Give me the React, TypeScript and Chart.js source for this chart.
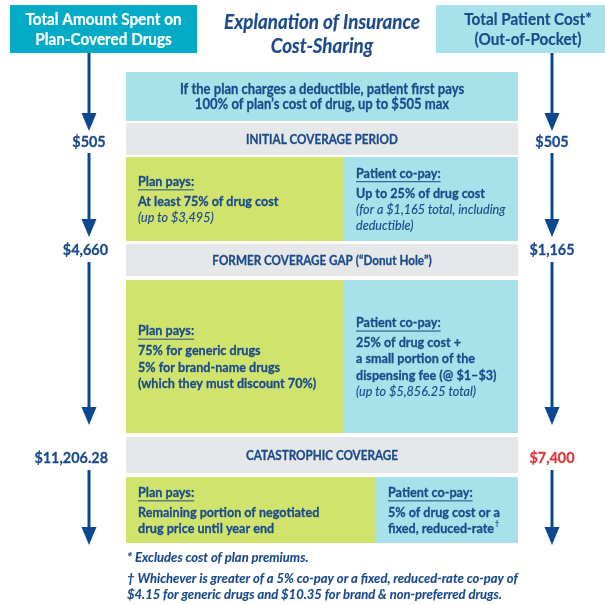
import React, { useEffect, useRef } from "react";
import { Chart, registerables } from "chart.js";
Chart.register(...registerables);

// ---------- DATA ----------
const HEADER_LEFT = ["Total Amount Spent on", "Plan-Covered Drugs"];
const HEADER_RIGHT = ["Total Patient Cost*", "(Out-of-Pocket)"];
const TITLE = ["Explanation of Insurance", "Cost-Sharing"];
const DEDUCTIBLE = [
  "If the plan charges a deductible, patient first pays",
  "100% of plan\u2019s cost of drug, up to $505 max",
];
const STAGES = [
  "INITIAL COVERAGE PERIOD",
  "FORMER COVERAGE GAP (\u201cDonut Hole\u201d)",
  "CATASTROPHIC COVERAGE",
];
const TOTAL_SPENT = ["$505", "$4,660", "$11,206.28"];
const PATIENT_COST = ["$505", "$1,165", "$7,400"];
const PLAN_HEADING = "Plan pays:";
const COPAY_HEADING = "Patient co-pay:";
const PLAN_PAYS_MAIN = [
  ["At least 75% of drug cost"],
  ["75% for generic drugs", "5% for brand-name drugs", "(which they must discount 70%)"],
  ["Remaining portion of negotiated", "drug price until year end"],
];
const PLAN_PAYS_NOTE = [["(up to $3,495)"], [], []];
const COPAY_MAIN = [
  ["Up to 25% of drug cost"],
  ["25% of drug cost +", "a small portion of the", "dispensing fee (@ $1\u2013$3)"],
  ["5% of drug cost or a", "fixed, reduced-rate\u2020"],
];
const COPAY_NOTE = [["(for a $1,165 total, including", "deductible)"], ["(up to $5,856.25 total)"], []];
const FOOTNOTES = [
  "* Excludes cost of plan premiums.",
  "\u2020 Whichever is greater of a 5% co-pay or a fixed, reduced-rate co-pay of",
  "$4.15 for generic drugs and $10.35 for brand & non-preferred drugs.",
];

// ---------- LAYOUT & STYLE ----------
const W = 605;
const H = 605;
const C = {
  teal: "#04abc7",
  cyan: "#a7e1e9",
  green: "#d0e46d",
  gray: "#e6e7e8",
  navy: "#1c4b8c",
  arrow: "#0b4892",
  red: "#e2373f",
  white: "#ffffff",
};
const FONT = "Lato, 'Open Sans', sans-serif";
const SX = 0.9; // condensation for italic notes
const SXB = 0.9; // condensation for bold text
const HIGHLIGHT_INDEX = 2;
const LAYOUT = {
  headerLeft: [10, 197, 5, 53],
  headerRight: [436, 620, 5, 53],
  titleX: 322,
  titleY: [23, 47],
  boxL: 126,
  boxR: 518,
  deductible: [72, 121],
  bands: [[123, 155], [244, 276], [437, 473]],
  rows: [[157, 241], [280, 433], [477, 543]],
  splits: [344, 344, 376],
  colL: 89,
  colR: 552,
  labelY: [142, 250, 458],
  arrows: [[53, 131], [153, 237], [262, 425], [470, 545]],
  footY: [558, 579, 595],
};

function drawText(ctx: CanvasRenderingContext2D, t: string, x: number, y: number, font: string, color: string, align: CanvasTextAlign = "left", sx = SXB, heavy = 0.3) {
  ctx.save();
  ctx.font = font;
  ctx.fillStyle = color;
  ctx.strokeStyle = color;
  ctx.lineWidth = heavy;
  ctx.lineJoin = "round";
  ctx.textAlign = align;
  ctx.textBaseline = "middle";
  ctx.translate(x, y);
  ctx.scale(sx, 1);
  let main = t;
  let sup = "";
  if (t.endsWith("\u2020") && !t.startsWith("\u2020")) {
    main = t.slice(0, -1);
    sup = "\u2020";
  }
  ctx.fillText(main, 0, 0);
  if (heavy > 0) ctx.strokeText(main, 0, 0);
  const w = ctx.measureText(main).width;
  if (sup) {
    ctx.font = `700 8px ${FONT}`;
    ctx.fillText(sup, w + 1, -5);
  }
  ctx.restore();
  return w * sx;
}

const infographic = {
  id: "infographic",
  afterDraw(chart: any) {
    const ctx: CanvasRenderingContext2D = chart.ctx;
    const xs = chart.scales.x;
    const ys = chart.scales.y;
    const px = (v: number) => xs.getPixelForValue(v);
    const py = (v: number) => ys.getPixelForValue(v);
    const rect = (x0: number, x1: number, y0: number, y1: number, color: string) => {
      ctx.fillStyle = color;
      ctx.fillRect(px(x0), py(y0), px(x1) - px(x0), py(y1) - py(y0));
    };

    ctx.save();
    // header boxes
    const hl = LAYOUT.headerLeft;
    rect(hl[0], hl[1], hl[2], hl[3], C.teal);
    const hr = LAYOUT.headerRight;
    rect(hr[0], hr[1], hr[2], hr[3], C.cyan);
    const hFont = `700 17px ${FONT}`;
    HEADER_LEFT.forEach((t, i) => drawText(ctx, t, px((hl[0] + hl[1]) / 2), py(20 + i * 19.5), hFont, C.white, "center", 0.9, 0.2));
    HEADER_RIGHT.forEach((t, i) => drawText(ctx, t, px((hr[0] + hr[1]) / 2), py(20 + i * 19.5), hFont, C.navy, "center", 0.9, 0.2));

    // title
    TITLE.forEach((t, i) =>
      drawText(ctx, t, px(LAYOUT.titleX), py(LAYOUT.titleY[i]), `italic 700 20px ${FONT}`, C.navy, "center", 0.94, 0.2)
    );

    const L = LAYOUT.boxL;
    const R = LAYOUT.boxR;
    // deductible
    rect(L, R, LAYOUT.deductible[0], LAYOUT.deductible[1], C.cyan);
    const dMid = (LAYOUT.deductible[0] + LAYOUT.deductible[1]) / 2;
    DEDUCTIBLE.forEach((t, i) =>
      drawText(ctx, t, px((L + R) / 2), py(dMid - 7.5 + i * 15.5), `700 15px ${FONT}`, C.navy, "center", 0.87)
    );

    // stages
    STAGES.forEach((stage, s) => {
      const b = LAYOUT.bands[s];
      rect(L, R, b[0], b[1], C.gray);
      drawText(ctx, stage, px((L + R) / 2), py((b[0] + b[1]) / 2 + 0.5), `700 13px ${FONT}`, C.navy, "center", 0.9);

      const r = LAYOUT.rows[s];
      const sp = LAYOUT.splits[s];
      rect(L, sp, r[0], r[1], C.green);
      rect(sp, R, r[0], r[1], C.cyan);

      const block = (x0: number, heading: string, main: string[], note: string[]) => {
        const n = main.length + note.length;
        const hgt = 20 + (n - 1) * 16.3;
        let y = (r[0] + r[1]) / 2 - hgt / 2 + 0.5;
        const w = drawText(ctx, heading, px(x0 + 12), py(y), `700 14px ${FONT}`, C.navy);
        ctx.strokeStyle = C.navy;
        ctx.lineWidth = 1;
        ctx.beginPath();
        ctx.moveTo(px(x0 + 12), py(y) + 8.5);
        ctx.lineTo(px(x0 + 12) + w, py(y) + 8.5);
        ctx.stroke();
        y += 20;
        main.forEach((t) => {
          drawText(ctx, t, px(x0 + 12), py(y), `700 14px ${FONT}`, C.navy);
          y += 16.3;
        });
        note.forEach((t) => {
          drawText(ctx, t, px(x0 + 12), py(y), `italic 400 14px ${FONT}`, C.navy, "left", SX, 0.15);
          y += 16.3;
        });
      };
      block(L, PLAN_HEADING, PLAN_PAYS_MAIN[s], PLAN_PAYS_NOTE[s]);
      block(sp, COPAY_HEADING, COPAY_MAIN[s], COPAY_NOTE[s]);
    });

    // arrows
    const drawArrow = (x: number, y0: number, y1: number) => {
      const X = px(x);
      const Y0 = py(y0);
      const Y1 = py(y1);
      ctx.strokeStyle = C.arrow;
      ctx.lineWidth = 3;
      ctx.beginPath();
      ctx.moveTo(X, Y0);
      ctx.lineTo(X, Y1 - 14);
      ctx.stroke();
      ctx.fillStyle = C.arrow;
      ctx.beginPath();
      ctx.moveTo(X - 7.5, Y1 - 18);
      ctx.lineTo(X + 7.5, Y1 - 18);
      ctx.lineTo(X, Y1);
      ctx.closePath();
      ctx.fill();
    };
    LAYOUT.arrows.forEach((a) => {
      drawArrow(LAYOUT.colL, a[0], a[1]);
      drawArrow(LAYOUT.colR, a[0], a[1]);
    });

    // amount labels
    const lFont = `700 16px ${FONT}`;
    TOTAL_SPENT.forEach((t, i) => {
      ctx.font = lFont;
      const w = ctx.measureText(t).width * 0.9;
      let cx = px(LAYOUT.colL);
      const maxRight = px(L) - 18;
      if (cx + w / 2 > maxRight) cx = maxRight - w / 2;
      drawText(ctx, t, cx, py(LAYOUT.labelY[i]), lFont, C.navy, "center", 0.9);
    });
    PATIENT_COST.forEach((t, i) => {
      drawText(ctx, t, px(LAYOUT.colR), py(LAYOUT.labelY[i]), lFont, i === HIGHLIGHT_INDEX ? C.red : C.navy, "center", 0.9);
    });

    // footnotes
    FOOTNOTES.forEach((t, i) =>
      drawText(ctx, t, px(L + 1), py(LAYOUT.footY[i]), `italic 700 13px ${FONT}`, C.navy, "left", 1.0, 0.15)
    );
    ctx.restore();
  },
};

export default function App() {
  const ref = useRef<HTMLCanvasElement>(null);
  useEffect(() => {
    document.body.style.margin = "0";
    const chart = new Chart(ref.current as HTMLCanvasElement, {
      type: "scatter",
      data: { datasets: [] },
      options: {
        responsive: false,
        animation: false,
        devicePixelRatio: 1,
        events: [],
        layout: { padding: 0 },
        plugins: { legend: { display: false }, tooltip: { enabled: false } },
        scales: {
          x: { type: "linear", min: 0, max: W, display: false },
          y: { type: "linear", min: 0, max: H, reverse: true, display: false },
        },
      },
      plugins: [infographic],
    } as any);
    return () => chart.destroy();
  }, []);
  return (
    <div style={{ position: "absolute", left: 0, top: 0, width: W, height: H, background: "#fff" }}>
      <canvas ref={ref} width={W} height={H} style={{ display: "block" }} />
    </div>
  );
}
